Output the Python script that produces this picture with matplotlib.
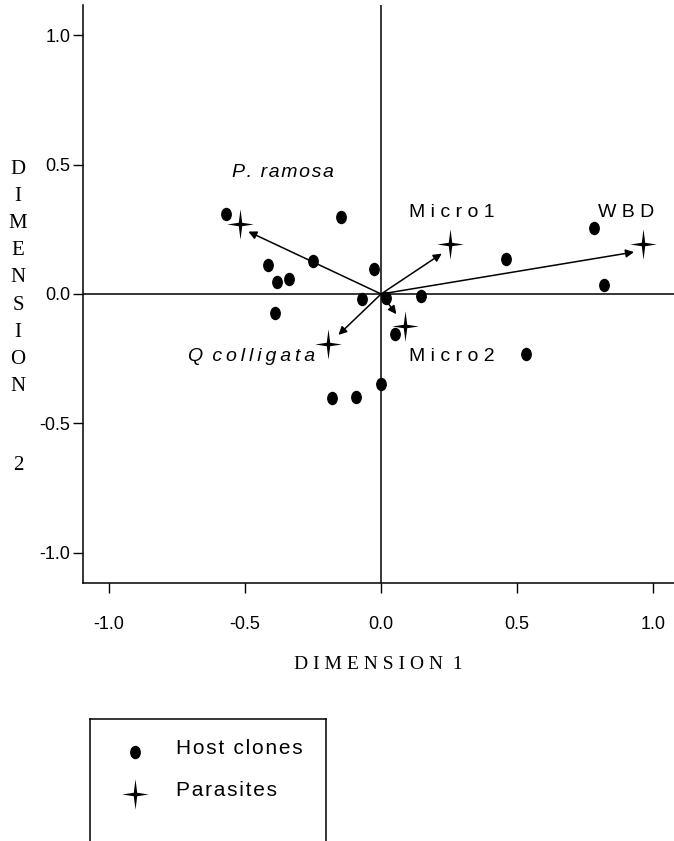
import numpy as np
import matplotlib
matplotlib.use("Agg")
import matplotlib.pyplot as plt
from matplotlib.path import Path

# host clone scores (dimension 1, dimension 2)
host_x = [-0.57, -0.148, -0.414, -0.249, -0.025, -0.383, -0.338, -0.069, 0.017, 0.146,
          -0.39, 0.051, -0.001, -0.181, -0.094, 0.461, 0.782, 0.819, 0.532]
host_y = [0.31, 0.298, 0.113, 0.127, 0.098, 0.048, 0.059, -0.018, -0.015, -0.009,
          -0.072, -0.156, -0.349, -0.403, -0.396, 0.135, 0.255, 0.035, -0.23]

# parasites
par_names = ["P. ramosa", "Micro 1", "WBD", "Micro 2", "Q colligata"]
par_x = [-0.518, 0.253, 0.964, 0.088, -0.194]
par_y = [0.271, 0.194, 0.194, -0.124, -0.194]
# arrow tips (vectors from origin)
arr_x = [-0.488, 0.223, 0.93, 0.056, -0.157]
arr_y = [0.241, 0.156, 0.162, -0.078, -0.158]

HAIR = "\u200a"
THIN = "\u2009"


def spaced(s, sp):
    return sp.join(s)


# label positions
lab_text = [spaced("P. ramosa", HAIR), "M i c r o 1", "W B D", "M i c r o 2",
            "Q " + THIN + spaced("colligata", THIN)]
lab_x = [-0.36, 0.26, 0.9, 0.26, -0.476]
lab_y = [0.47, 0.315, 0.315, -0.24, -0.24]
lab_style = ["italic", "normal", "normal", "normal", "italic"]

ticks = [-1.0, -0.5, 0.0, 0.5, 1.0]

# markers: thin four-pointed star and slightly tall dot
s = 0.13
star = Path([(0, 1.15), (s, s), (1, 0), (s, -s), (0, -1.15), (-s, -s), (-1, 0), (-s, s), (0, 1.15)],
            [Path.MOVETO] + [Path.LINETO] * 7 + [Path.CLOSEPOLY])
circ = Path.unit_circle()
dot = Path(circ.vertices * np.array([0.78, 1.0]), circ.codes)

plt.rcParams['font.family'] = ['Liberation Sans', 'DejaVu Sans']

fig = plt.figure(figsize=(6.74, 8.41), dpi=100)
ax = fig.add_axes([83 / 674, (841 - 583) / 841, 591 / 674, 578 / 841])
ax.set_xlim(-1.096, 1.077)
ax.set_ylim(-1.116, 1.116)
ax.axhline(0, color='black', lw=1.1)
ax.axvline(0, color='black', lw=1.1)

ax.scatter(host_x, host_y, marker=dot, s=75, color='black', zorder=3)
ax.scatter(par_x, par_y, marker=star, s=480, color='black', linewidths=0, zorder=3)
for tx, ty in zip(arr_x, arr_y):
    ax.annotate("", xy=(tx, ty), xytext=(0, 0),
                arrowprops=dict(arrowstyle='-|>', color='black', lw=1.1,
                                mutation_scale=12, shrinkA=0, shrinkB=0))
for t, lx, ly, st in zip(lab_text, lab_x, lab_y, lab_style):
    ax.text(lx, ly, t, fontsize=14, style=st, ha='center', va='center')

for sp in ['top', 'right']:
    ax.spines[sp].set_visible(False)
ax.spines['left'].set_linewidth(1.1)
ax.spines['bottom'].set_linewidth(1.1)
ax.set_xticks(ticks)
ax.set_yticks(ticks)
ax.set_xticklabels([f"{t:.1f}" for t in ticks])
ax.set_yticklabels([f"{t:.1f}" for t in ticks])
ax.tick_params(direction='out', length=7, width=1, labelsize=13)
ax.tick_params(axis='x', pad=17)
ax.tick_params(axis='y', pad=2)

ax.set_xlabel("D I M E N S I O N  1", family='Liberation Serif', fontsize=14, labelpad=16)
fig.text(18 / 674, 1 - 160 / 841, "D\nI\nM\nE\nN\nS\nI\nO\nN", family='Liberation Serif',
         fontsize=15, ha='center', va='top', linespacing=1.58)
fig.text(18 / 674, 1 - 465 / 841, "2", family='Liberation Serif',
         fontsize=15, ha='center', va='center')

# legend box (open at the bottom, cut by the figure edge)
lg = fig.add_axes([90 / 674, 0, 236 / 674, (841 - 719) / 841])
lg.set_xlim(0, 236)
lg.set_ylim(0, 122)
lg.set_xticks([])
lg.set_yticks([])
lg.spines['bottom'].set_visible(False)
for sp in ['left', 'right', 'top']:
    lg.spines[sp].set_linewidth(1.1)
lg.scatter([45], [89], marker=dot, s=75, color='black')
lg.scatter([45], [47], marker=star, s=480, color='black', linewidths=0)
lg.text(86, 92, spaced("Host clones", HAIR), fontsize=15, va='center')
lg.text(86, 51, spaced("Parasites", HAIR), fontsize=15, va='center')

fig.savefig("out.png", dpi=100)
